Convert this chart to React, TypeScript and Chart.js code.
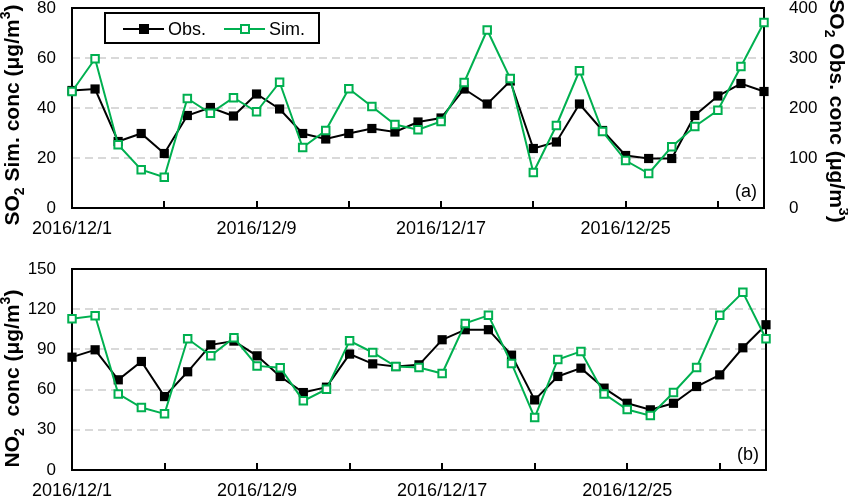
import React, { useEffect, useRef } from 'react';
import { Chart, registerables } from 'chart.js';

Chart.register(...registerables);

const DATES = [
  '2016/12/1', '2016/12/2', '2016/12/3', '2016/12/4', '2016/12/5', '2016/12/6', '2016/12/7', '2016/12/8',
  '2016/12/9', '2016/12/10', '2016/12/11', '2016/12/12', '2016/12/13', '2016/12/14', '2016/12/15', '2016/12/16',
  '2016/12/17', '2016/12/18', '2016/12/19', '2016/12/20', '2016/12/21', '2016/12/22', '2016/12/23', '2016/12/24',
  '2016/12/25', '2016/12/26', '2016/12/27', '2016/12/28', '2016/12/29', '2016/12/30', '2016/12/31',
];

// SO2 observed (right axis, µg/m3)
const SO2_OBS = [235, 238, 133, 149, 109, 185, 201, 184, 228, 198, 149, 138, 149, 159, 152, 172,
  180, 238, 208, 254, 119, 132, 208, 155, 105, 99, 99, 185, 224, 249, 233];
// SO2 simulated (left axis, µg/m3)
const SO2_SIM = [46.6, 59.7, 25.3, 15.3, 12.3, 43.8, 37.9, 44.1, 38.5, 50.3, 24.2, 31.0, 47.7, 40.6, 33.4, 31.3,
  34.6, 50.2, 71.2, 51.8, 14.2, 33.0, 54.9, 30.6, 19.0, 13.8, 24.5, 32.6, 39.1, 56.6, 74.2];
// NO2 observed / simulated (µg/m3)
const NO2_OBS = [84.2, 89.7, 67.3, 81.0, 54.8, 73.3, 93.4, 96.2, 85.2, 69.8, 57.8, 61.8, 86.5, 79.2, 77.2, 78.5,
  97.2, 104.7, 104.7, 85.7, 52.3, 69.8, 76.0, 61.1, 49.8, 44.9, 49.8, 62.3, 71.0, 91.2, 108.4];
const NO2_SIM = [112.9, 115.1, 56.8, 46.6, 41.9, 97.9, 85.2, 98.7, 77.7, 76.3, 51.6, 60.3, 96.4, 87.7, 77.2, 76.5,
  72.0, 109.4, 115.4, 79.5, 39.1, 82.5, 88.5, 56.8, 45.1, 40.6, 57.8, 76.5, 115.4, 132.6, 97.9];

const SO2_LEFT_TICKS = { min: 0, max: 80, step: 20 };
const SO2_RIGHT_TICKS = { min: 0, max: 400, step: 100 };
const NO2_TICKS = { min: 0, max: 150, step: 30 };

const SERIES_NAMES = ['Obs.', 'Sim.'];
const PANEL_LABELS = ['(a)', '(b)'];

const FONT = '"Liberation Sans", Arial, Helvetica, sans-serif';
const GREEN = '#00B050';

type Part = { t: string; k?: 'sub' | 'sup' };

function drawRich(ctx: CanvasRenderingContext2D, parts: Part[], cx: number, cy: number, rot: number, size: number) {
  ctx.save();
  ctx.translate(cx, cy);
  ctx.rotate(rot);
  const big = `bold ${size}px ${FONT}`;
  const small = `bold ${Math.round(size * 0.65)}px ${FONT}`;
  let total = 0;
  const widths = parts.map((p) => {
    ctx.font = p.k ? small : big;
    const w = ctx.measureText(p.t).width;
    total += w;
    return w;
  });
  let x = -total / 2;
  ctx.textAlign = 'left';
  ctx.textBaseline = 'alphabetic';
  ctx.fillStyle = '#000';
  const baseY = size * 0.36;
  parts.forEach((p, i) => {
    ctx.font = p.k ? small : big;
    const dy = p.k === 'sub' ? size * 0.25 : p.k === 'sup' ? -size * 0.4 : 0;
    ctx.fillText(p.t, x, baseY + dy);
    x += widths[i];
  });
  ctx.restore();
}

function makePanelPlugin(cfg: {
  titles: { parts: Part[]; x: number; y: number; rot: number }[];
  label: string;
  labelY: number;
  legend: boolean;
}) {
  return {
    id: 'panelDecor',
    beforeDatasetsDraw(chart: any) {
      const ctx: CanvasRenderingContext2D = chart.ctx;
      const a = chart.chartArea;
      const ys = chart.scales.y;
      ctx.save();
      // dashed grid
      ctx.strokeStyle = '#d9d9d9';
      ctx.lineWidth = 2;
      ctx.setLineDash([8, 5]);
      ys.ticks.forEach((t: any) => {
        if (t.value === ys.min || t.value === ys.max) return;
        const py = Math.round(ys.getPixelForValue(t.value));
        ctx.beginPath();
        ctx.moveTo(a.left, py);
        ctx.lineTo(a.right, py);
        ctx.stroke();
      });
      ctx.setLineDash([]);
      // frame
      ctx.strokeStyle = '#000';
      ctx.lineWidth = 2;
      ctx.strokeRect(a.left, a.top, a.right - a.left, a.bottom - a.top);
      // inward x tick marks every 4 days
      const xs = chart.scales.x;
      for (let i = 4; i < DATES.length; i += 4) {
        const px = Math.round(xs.getPixelForValue(i));
        ctx.beginPath();
        ctx.moveTo(px, a.bottom);
        ctx.lineTo(px, a.bottom - 7);
        ctx.stroke();
      }
      ctx.restore();
    },
    afterDraw(chart: any) {
      const ctx: CanvasRenderingContext2D = chart.ctx;
      const a = chart.chartArea;
      cfg.titles.forEach((t) => drawRich(ctx, t.parts, t.x, t.y, t.rot, 21));
      ctx.save();
      ctx.fillStyle = '#000';
      ctx.font = `18px ${FONT}`;
      ctx.textAlign = 'right';
      ctx.textBaseline = 'middle';
      ctx.fillText(cfg.label, a.right - 7, cfg.labelY);
      if (cfg.legend) {
        ctx.fillStyle = '#fff';
        ctx.fillRect(105, 13, 214, 30);
        ctx.strokeStyle = '#000';
        ctx.lineWidth = 2;
        ctx.strokeRect(105, 13, 214, 30);
        const ly = 29;
        const items = [
          { x: 123, color: '#000', fill: '#000', name: SERIES_NAMES[0] },
          { x: 224, color: GREEN, fill: '#fff', name: SERIES_NAMES[1] },
        ];
        items.forEach((it) => {
          ctx.strokeStyle = it.color;
          ctx.lineWidth = 2;
          ctx.beginPath();
          ctx.moveTo(it.x, ly);
          ctx.lineTo(it.x + 41, ly);
          ctx.stroke();
          ctx.fillStyle = it.fill;
          ctx.fillRect(it.x + 17, ly - 4, 8, 8);
          ctx.strokeRect(it.x + 17, ly - 4, 8, 8);
          ctx.fillStyle = '#000';
          ctx.font = `18px ${FONT}`;
          ctx.textAlign = 'left';
          ctx.textBaseline = 'middle';
          ctx.fillText(it.name, it.x + 45, ly + 1);
        });
      }
      ctx.restore();
    },
  };
}

function obsDataset(data: number[], axis: string) {
  return {
    label: SERIES_NAMES[0],
    data,
    yAxisID: axis,
    borderColor: '#000',
    backgroundColor: '#000',
    borderWidth: 2,
    pointStyle: 'rect',
    pointRadius: 6.5,
    pointBorderWidth: 0,
    pointBackgroundColor: '#000',
    tension: 0,
    order: 1,
    clip: false as any,
  };
}

function simDataset(data: number[], axis: string) {
  return {
    label: SERIES_NAMES[1],
    data,
    yAxisID: axis,
    borderColor: GREEN,
    backgroundColor: '#fff',
    borderWidth: 2,
    pointStyle: 'rect',
    pointRadius: 5.3,
    pointBorderWidth: 2,
    pointBorderColor: GREEN,
    pointBackgroundColor: '#fff',
    tension: 0,
    order: 0,
    clip: false as any,
  };
}

function zeroPad(s: any) {
  s.paddingTop = 0;
  s.paddingBottom = 0;
  s.paddingLeft = 0;
  s.paddingRight = 0;
}

function xScale(height: number) {
  return {
    type: 'category',
    offset: false,
    grid: { display: false, drawTicks: false },
    border: { display: false },
    ticks: {
      autoSkip: false,
      maxRotation: 0,
      minRotation: 0,
      padding: 10,
      color: '#000',
      font: { family: FONT, size: 18 },
      callback: (_v: any, i: number) => (i % 8 === 0 ? DATES[i] : ''),
    },
    afterFit: (s: any) => {
      s.height = height;
      zeroPad(s);
    },
  };
}

function yScale(t: { min: number; max: number; step: number }, position: string, width: number, padding: number) {
  return {
    position,
    min: t.min,
    max: t.max,
    grid: { display: false, drawTicks: false },
    border: { display: false },
    ticks: { stepSize: t.step, padding, color: '#000', font: { family: FONT, size: 17 } },
    afterFit: (s: any) => {
      s.width = width;
      zeroPad(s);
    },
  };
}

export default function App() {
  const topRef = useRef<HTMLCanvasElement>(null);
  const botRef = useRef<HTMLCanvasElement>(null);

  useEffect(() => {
    const top = new Chart(topRef.current as HTMLCanvasElement, {
      type: 'line',
      data: {
        labels: DATES,
        datasets: [obsDataset(SO2_OBS, 'y1') as any, simDataset(SO2_SIM, 'y') as any],
      },
      options: {
        responsive: false,
        animation: false,
        devicePixelRatio: 1,
        layout: { padding: { top: 8, left: 0, right: 0, bottom: 0 } },
        plugins: { legend: { display: false }, tooltip: { enabled: false }, title: { display: false } },
        scales: {
          x: xScale(42) as any,
          y: yScale(SO2_LEFT_TICKS, 'left', 72, 16) as any,
          y1: yScale(SO2_RIGHT_TICKS, 'right', 84, 25) as any,
        },
      },
      plugins: [
        makePanelPlugin({
          titles: [
            { parts: [{ t: 'SO' }, { t: '2', k: 'sub' }, { t: ' Sim. conc (μg/m' }, { t: '3', k: 'sup' }, { t: ')' }], x: 11, y: 115, rot: -Math.PI / 2 },
            { parts: [{ t: 'SO' }, { t: '2', k: 'sub' }, { t: ' Obs. conc (μg/m' }, { t: '3', k: 'sup' }, { t: ')' }], x: 838, y: 111, rot: Math.PI / 2 },
          ],
          label: PANEL_LABELS[0],
          labelY: 192,
          legend: true,
        }) as any,
      ],
    });

    const bot = new Chart(botRef.current as HTMLCanvasElement, {
      type: 'line',
      data: {
        labels: DATES,
        datasets: [obsDataset(NO2_OBS, 'y') as any, simDataset(NO2_SIM, 'y') as any],
      },
      options: {
        responsive: false,
        animation: false,
        devicePixelRatio: 1,
        layout: { padding: { top: 19, left: 0, right: 82, bottom: 0 } },
        plugins: { legend: { display: false }, tooltip: { enabled: false }, title: { display: false } },
        scales: {
          x: xScale(30) as any,
          y: yScale(NO2_TICKS, 'left', 72, 16) as any,
        },
      },
      plugins: [
        makePanelPlugin({
          titles: [
            { parts: [{ t: 'NO' }, { t: '2', k: 'sub' }, { t: '  conc (μg/m' }, { t: '3', k: 'sup' }, { t: ')' }], x: 11, y: 128.5, rot: -Math.PI / 2 },
          ],
          label: PANEL_LABELS[1],
          labelY: 205,
          legend: false,
        }) as any,
      ],
    });

    return () => {
      top.destroy();
      bot.destroy();
    };
  }, []);

  return (
    <div style={{ position: 'absolute', left: 0, top: 0, width: 848, height: 500, background: '#fff' }}>
      <canvas ref={topRef} width={848} height={250} style={{ position: 'absolute', left: 0, top: 0, width: 848, height: 250 }} />
      <canvas ref={botRef} width={848} height={250} style={{ position: 'absolute', left: 0, top: 250, width: 848, height: 250 }} />
    </div>
  );
}
